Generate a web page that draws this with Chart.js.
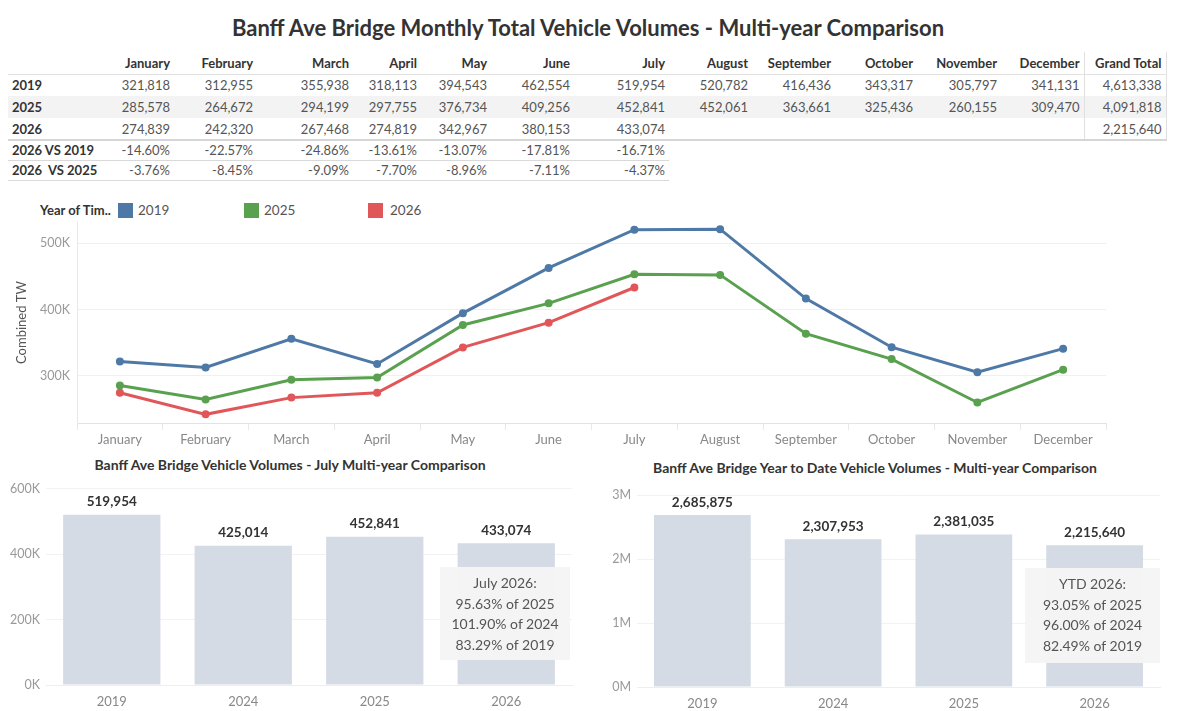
<!DOCTYPE html>
<html>
<head>
<meta charset="utf-8">
<script src="https://cdn.jsdelivr.net/npm/chart.js@4.4.1/dist/chart.umd.min.js"></script>
<style>
  body { margin: 0; width: 1200px; height: 711px; background: #fff; font-family: Lato, "Open Sans", sans-serif; position: relative; overflow: hidden; color: #333; }
  #title { position: absolute; top: 14px; left: 0; width: 1176px; text-align: center; font-size: 22px; font-weight: bold; color: #333; }
  table { position: absolute; left: 8px; top: 52px; border-collapse: collapse; table-layout: fixed; font-size: 13px; }
  td, th { height: 22px; padding: 0 4px; text-align: right; white-space: pre; box-sizing: border-box; }
  th { font-weight: bold; color: #333; }
  td { color: #555; }
  td.lab { text-align: left; font-weight: bold; color: #333; }
  tr.head th { border-bottom: 1px solid #e2e2e2; }
  tr.alt td { background: #f3f3f3; }
  tr.last td { border-bottom: 2px solid #d6d6d6; }
  tr.pct td { height: 20px; }
  tr.pct td.b { border-bottom: 1px solid #d9d9d9; }
  .gt { border-left: 1px solid #e0e0e0; border-right: 1px solid #e0e0e0; }
  .legend { position: absolute; top: 202px; font-size: 13.5px; color: #555; }
  .legend b { color: #333; font-size: 13px; }
  .sw { position: absolute; top: 203px; width: 15px; height: 15px; }
  canvas { position: absolute; }
  .subtitle { position: absolute; font-size: 14px; font-weight: bold; color: #333; text-align: center; }
  .note { position: absolute; background: rgba(244,245,244,0.96); color: #555; font-size: 14px; line-height: 20.5px; text-align: center; box-sizing: border-box; padding-top: 6px; }
</style>
</head>
<body>
<div id="title">Banff Ave Bridge Monthly Total Vehicle Volumes - Multi-year Comparison</div>
<table id="tbl"></table>

<div class="legend" style="left:40px;"><b>Year of Tim..</b></div>
<div class="sw" style="left:118px;background:#4e79a7"></div><div class="legend" style="left:138px;">2019</div>
<div class="sw" style="left:244px;background:#59a14f"></div><div class="legend" style="left:264px;">2025</div>
<div class="sw" style="left:368px;background:#e15759"></div><div class="legend" style="left:390px;">2026</div>

<canvas id="line-chart" width="1120" height="255" style="left:0;top:195px;width:1120px;height:255px"></canvas>

<div class="subtitle" style="left:40px;width:500px;top:456px;">Banff Ave Bridge Vehicle Volumes - July Multi-year Comparison</div>
<div class="subtitle" style="left:625px;width:500px;top:459px;">Banff Ave Bridge Year to Date Vehicle Volumes - Multi-year Comparison</div>

<canvas id="july-chart" width="590" height="236" style="left:0;top:475px;width:590px;height:236px"></canvas>
<canvas id="ytd-chart" width="610" height="236" style="left:590px;top:475px;width:610px;height:236px"></canvas>

<div class="note" style="left:440px;top:567px;width:130px;height:93px;">July 2026:<br>95.63% of 2025<br>101.90% of 2024<br>83.29% of 2019</div>
<div class="note" style="left:1025px;top:568px;width:135px;height:95px;">YTD 2026:<br>93.05% of 2025<br>96.00% of 2024<br>82.49% of 2019</div>

<script>
// 월별 데이터
let months = ['January', 'February', 'March', 'April', 'May', 'June', 'July', 'August', 'September', 'October', 'November', 'December'];
let vol_2019 = [321818, 312955, 355938, 318113, 394543, 462554, 519954, 520782, 416436, 343317, 305797, 341131];
let vol_2025 = [285578, 264672, 294199, 297755, 376734, 409256, 452841, 452061, 363661, 325436, 260155, 309470];
let vol_2026 = [274839, 242320, 267468, 274819, 342967, 380153, 433074, null, null, null, null, null];
let grand_total = [4613338, 4091818, 2215640];
let vs_2019 = ['-14.60%', '-22.57%', '-24.86%', '-13.61%', '-13.07%', '-17.81%', '-16.71%'];
let vs_2025 = ['-3.76%', '-8.45%', '-9.09%', '-7.70%', '-8.96%', '-7.11%', '-4.37%'];

// 하단 막대 차트
let bar_years = ['2019', '2024', '2025', '2026'];
let july_values = [519954, 425014, 452841, 433074];
let ytd_values = [2685875, 2307953, 2381035, 2215640];

let color_list = ['#4e79a7', '#59a14f', '#e15759'];
let bar_color = '#d5dbe5';

function fmt(v) {
    return v == null ? '' : v.toLocaleString('en-US');
}

// 표 만들기
function build_table() {
    let widths = [96, 70, 83, 96, 68, 70, 83, 95, 83, 83, 82, 84, 83, 82];
    let html = '<colgroup>';
    widths.forEach(w => html += '<col style="width:' + w + 'px">');
    html += '</colgroup>';

    html += '<tr class="head"><th></th>';
    months.forEach(m => html += '<th>' + m + '</th>');
    html += '<th class="gt">Grand Total</th></tr>';

    let rows = [['2019', vol_2019, ''], ['2025', vol_2025, 'alt'], ['2026', vol_2026, 'last']];
    rows.forEach((r, i) => {
        html += '<tr class="' + r[2] + '"><td class="lab">' + r[0] + '</td>';
        r[1].forEach(v => html += '<td>' + fmt(v) + '</td>');
        html += '<td class="gt">' + fmt(grand_total[i]) + '</td></tr>';
    });

    let pct = [['2026 VS 2019', vs_2019], ['2026  VS 2025', vs_2025]];
    pct.forEach(r => {
        html += '<tr class="pct"><td class="lab b">' + r[0] + '</td>';
        for (let j = 0; j < 13; j++) {
            if (j < r[1].length) html += '<td class="b">' + r[1][j] + '</td>';
            else html += '<td></td>';
        }
        html += '</tr>';
    });
    document.getElementById('tbl').innerHTML = html;
}
build_table();

Chart.defaults.font.family = 'Lato, "Open Sans", sans-serif';
Chart.defaults.animation = false;

// 막대 위 값 표시
const barValueLabels = {
    id: 'barValueLabels',
    afterDatasetsDraw(chart) {
        const ctx = chart.ctx;
        const meta = chart.getDatasetMeta(0);
        ctx.save();
        ctx.font = 'bold 13.5px Lato, "Open Sans", sans-serif';
        ctx.fillStyle = '#333';
        ctx.textAlign = 'center';
        ctx.textBaseline = 'bottom';
        meta.data.forEach((bar, i) => {
            ctx.fillText(fmt(chart.data.datasets[0].data[i]), bar.x, bar.y - 6);
        });
        ctx.restore();
    }
};

function line_ds(label, data, color) {
    return {
        label: label,
        data: data,
        borderColor: color,
        backgroundColor: color,
        borderWidth: 3,
        pointRadius: 2.5,
        pointHoverRadius: 4,
        tension: 0,
        spanGaps: false
    };
}

new Chart(document.getElementById('line-chart'), {
    type: 'line',
    data: {
        labels: months,
        datasets: [
            line_ds('2019', vol_2019, color_list[0]),
            line_ds('2025', vol_2025, color_list[1]),
            line_ds('2026', vol_2026, color_list[2])
        ]
    },
    options: {
        responsive: false,
        layout: { padding: { top: 27, right: 14, left: 0, bottom: 0 } },
        plugins: { legend: { display: false }, tooltip: { enabled: false } },
        scales: {
            x: {
                offset: true,
                grid: { offset: true, drawOnChartArea: false, drawTicks: true, tickLength: 7, color: '#e8e8e8' },
                border: { display: true, color: '#e3e3e3' },
                ticks: { color: '#888', font: { size: 13 }, padding: 2 },
                afterFit: function (scale) { scale.height = 27; }
            },
            y: {
                min: 229300,
                max: 531600,
                afterBuildTicks: function (scale) {
                    scale.ticks = [{ value: 300000 }, { value: 400000 }, { value: 500000 }];
                },
                grid: { color: '#f0f0f0', drawTicks: false },
                border: { display: true, color: '#e8e8e8' },
                ticks: {
                    color: '#999',
                    font: { size: 12.5 },
                    padding: 7,
                    callback: function (v) { return (v / 1000) + 'K'; }
                },
                title: { display: true, text: 'Combined TW', color: '#555', font: { size: 13 }, padding: { top: 14, bottom: 0 } },
                afterFit: function (scale) { scale.width = 77; }
            }
        }
    }
});

function draw_bar(id, values, ymax, step, unit, pad, xHeight, yWidth) {
    new Chart(document.getElementById(id), {
        type: 'bar',
        data: {
            labels: bar_years,
            datasets: [{
                data: values,
                backgroundColor: bar_color,
                categoryPercentage: 1,
                barPercentage: 0.74
            }]
        },
        options: {
            responsive: false,
            layout: { padding: pad },
            plugins: { legend: { display: false }, tooltip: { enabled: false } },
            scales: {
                x: {
                    grid: { display: false },
                    border: { display: true, color: '#eeeeee' },
                    ticks: { color: '#888', font: { size: 13 }, padding: 1 },
                    afterFit: function (scale) { scale.height = xHeight; }
                },
                y: {
                    min: 0,
                    max: ymax,
                    grid: { color: '#f2f2f2', drawTicks: false },
                    border: { display: false },
                    ticks: {
                        stepSize: step,
                        color: '#999',
                        font: { size: 12.5 },
                        padding: 6,
                        callback: function (v) { return (v / unit) + (unit === 1000 ? 'K' : 'M'); }
                    },
                    afterFit: function (scale) { scale.width = yWidth; }
                }
            }
        },
        plugins: [barValueLabels]
    });
}

draw_bar('july-chart', july_values, 600000, 200000, 1000, { top: 10, right: 18, left: 0, bottom: 0 }, 26, 46);
draw_bar('ytd-chart', ytd_values, 3000000, 1000000, 1000000, { top: 20, right: 40, left: 0, bottom: 0 }, 24, 47);
</script>
</body>
</html>
